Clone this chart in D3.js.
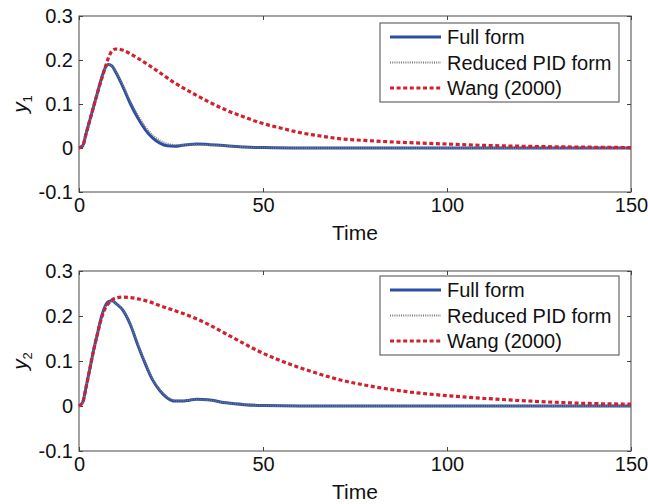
<!DOCTYPE html>
<html>
<head>
<meta charset="utf-8">
<script src="https://cdn.jsdelivr.net/npm/d3@7"></script>
<style>
  body { margin: 0; background: #fff; }
  text { font-family: "Liberation Sans", Arial, sans-serif; fill: #111; }
</style>
</head>
<body>
<svg id="canvas" width="648" height="504"></svg>
<script>
// time points for each series
const tFull = [0, 1, 2, 3, 4, 5, 6, 7, 8, 9, 10, 12, 14, 16, 18, 20, 22, 24, 26, 28, 30, 32, 35, 40, 45, 50, 60, 80, 100, 150];
const y1Full = [0, 0.005, 0.035, 0.065, 0.095, 0.125, 0.155, 0.18, 0.19, 0.186, 0.172, 0.138, 0.1, 0.068, 0.042, 0.023, 0.011, 0.005, 0.004, 0.006, 0.008, 0.009, 0.008, 0.005, 0.002, 0.001, 0, 0, 0, 0];
const y1Pid = [0, 0.005, 0.034, 0.064, 0.094, 0.124, 0.153, 0.178, 0.189, 0.186, 0.174, 0.142, 0.106, 0.075, 0.049, 0.03, 0.017, 0.01, 0.007, 0.007, 0.008, 0.008, 0.007, 0.005, 0.002, 0.001, 0, 0, 0, 0];
const y2Full = [0, 0.008, 0.045, 0.085, 0.125, 0.16, 0.195, 0.22, 0.232, 0.234, 0.228, 0.212, 0.18, 0.135, 0.094, 0.058, 0.034, 0.018, 0.011, 0.011, 0.013, 0.015, 0.014, 0.007, 0.003, 0.001, 0, 0, 0, 0];
const y2Pid = [0, 0.008, 0.044, 0.084, 0.124, 0.159, 0.194, 0.219, 0.231, 0.233, 0.228, 0.213, 0.182, 0.138, 0.097, 0.061, 0.036, 0.02, 0.013, 0.012, 0.013, 0.014, 0.013, 0.007, 0.003, 0.001, 0, 0, 0, 0];

const tWang = [0, 1, 2, 3, 4, 5, 6, 7, 8, 9, 10, 12, 14, 16, 19, 22, 26, 31, 35, 40, 45, 49, 55, 60, 65, 70, 80, 90, 100, 110, 120, 137, 150];
const y1Wang = [0, 0.005, 0.035, 0.065, 0.095, 0.125, 0.153, 0.18, 0.205, 0.221, 0.225, 0.222, 0.214, 0.204, 0.188, 0.171, 0.148, 0.124, 0.106, 0.086, 0.07, 0.058, 0.045, 0.035, 0.028, 0.022, 0.016, 0.012, 0.009, 0.006, 0.004, 0.002, 0.001];
const y2Wang = [0, 0.008, 0.045, 0.085, 0.125, 0.16, 0.192, 0.215, 0.228, 0.236, 0.24, 0.242, 0.241, 0.238, 0.232, 0.223, 0.212, 0.197, 0.182, 0.16, 0.138, 0.121, 0.1, 0.085, 0.072, 0.06, 0.043, 0.031, 0.023, 0.017, 0.012, 0.006, 0.004];

const xTicks = [0, 50, 100, 150];
const yTicks = [-0.1, 0, 0.1, 0.2, 0.3];
const legendLabels = ["Full form", "Reduced PID form", "Wang (2000)"];

const styles = [
  { color: "#2b4fa6", width: 3, dash: null },
  { color: "#7a7a7a", width: 1.8, dash: "1,1.2" },
  { color: "#d3202e", width: 3.2, dash: "4,2.6" }
];

const svg = d3.select("#canvas");

const panels = [
  { top: 16, bottom: 192, sub: "1", series: [[tFull, y1Full], [tFull, y1Pid], [tWang, y1Wang]], legendTop: 23, timeY: 240 },
  { top: 271, bottom: 451, sub: "2", series: [[tFull, y2Full], [tFull, y2Pid], [tWang, y2Wang]], legendTop: 276, timeY: 499 }
];

const left = 79, right = 631;

panels.forEach(p => {
  const x = d3.scaleLinear().domain([0, 150]).range([left, right]);
  const y = d3.scaleLinear().domain([-0.1, 0.3]).range([p.bottom, p.top]);
  const g = svg.append("g");

  // frame
  g.append("rect")
    .attr("x", left).attr("y", p.top)
    .attr("width", right - left).attr("height", p.bottom - p.top)
    .attr("fill", "none").attr("stroke", "#666").attr("stroke-width", 1.2);

  const fmt = d => String(d);

  const ax = (axis, tr) => {
    const a = g.append("g").attr("transform", tr).call(axis);
    a.select(".domain").remove();
    a.selectAll("line").attr("stroke", "#444");
    a.selectAll("text").attr("font-size", 20).attr("fill", "#111")
      .style("font-family", "'Liberation Sans', Arial, sans-serif");
    return a;
  };

  ax(d3.axisBottom(x).tickValues(xTicks).tickFormat(fmt).tickSizeInner(-4).tickSizeOuter(0).tickPadding(6),
    `translate(0,${p.bottom})`);
  ax(d3.axisTop(x).tickValues(xTicks).tickFormat("").tickSizeInner(-4).tickSizeOuter(0),
    `translate(0,${p.top})`);
  ax(d3.axisLeft(y).tickValues(yTicks).tickFormat(fmt).tickSizeInner(-4).tickSizeOuter(0).tickPadding(6),
    `translate(${left},0)`);
  ax(d3.axisRight(y).tickValues(yTicks).tickFormat("").tickSizeInner(-4).tickSizeOuter(0),
    `translate(${right},0)`);

  // lines
  p.series.forEach(([ts, vs], i) => {
    const s = styles[i];
    const line = d3.line().x(d => x(d[0])).y(d => y(d[1])).curve(d3.curveMonotoneX);
    g.append("path")
      .datum(ts.map((t, k) => [t, vs[k]]))
      .attr("d", line)
      .attr("fill", "none")
      .attr("stroke", s.color)
      .attr("stroke-width", s.width)
      .attr("stroke-dasharray", s.dash);
  });

  // axis labels
  g.append("text")
    .attr("x", (left + right) / 2).attr("y", p.timeY)
    .attr("text-anchor", "middle").attr("font-size", 21)
    .text("Time");

  const yl = g.append("text")
    .attr("transform", `translate(27,${(p.top + p.bottom) / 2}) rotate(-90)`)
    .attr("text-anchor", "middle").attr("font-size", 21);
  yl.append("tspan").attr("font-style", "italic").text("y");
  yl.append("tspan").attr("font-size", 13).attr("dy", 5).text(p.sub);

  // legend
  const lg = g.append("g").attr("transform", `translate(380,${p.legendTop})`);
  lg.append("rect").attr("width", 239).attr("height", 79)
    .attr("fill", "#fff").attr("stroke", "#666").attr("stroke-width", 1.2);
  legendLabels.forEach((lab, i) => {
    const s = styles[i];
    const cy = 14 + i * 25.5;
    lg.append("line")
      .attr("x1", 10).attr("x2", 61).attr("y1", cy).attr("y2", cy)
      .attr("stroke", s.color).attr("stroke-width", s.width)
      .attr("stroke-dasharray", s.dash);
    lg.append("text")
      .attr("x", 67).attr("y", cy + 7)
      .attr("font-size", 20).text(lab);
  });
});
</script>
</body>
</html>
